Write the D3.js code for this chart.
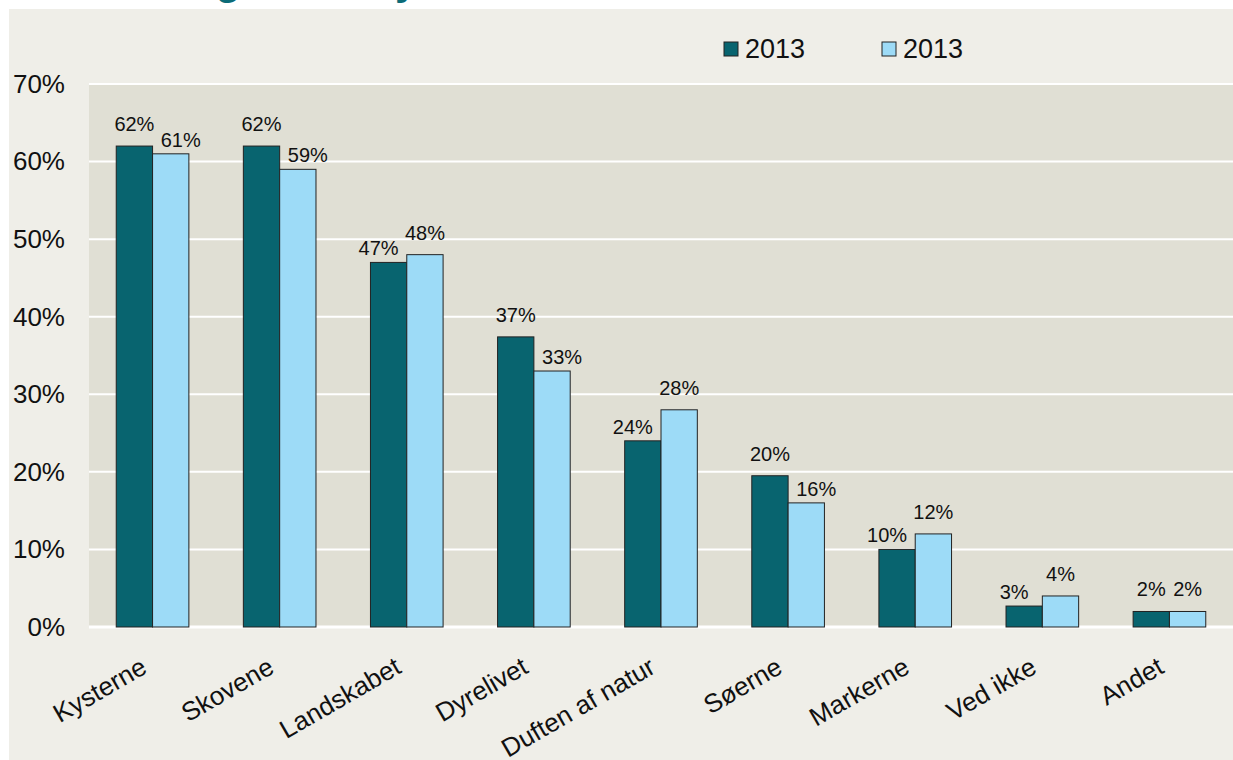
<!doctype html>
<html lang="da">
<head>
<meta charset="utf-8">
<title>Naturen</title>
<script src="https://cdn.jsdelivr.net/npm/d3@7"></script>
<style>
  body { margin: 0; background: #ffffff; }
  text { font-family: Arial, "Liberation Sans", sans-serif; }
</style>
</head>
<body>
<script>
var categories = ["Kysterne", "Skovene", "Landskabet", "Dyrelivet", "Duften af natur", "Søerne", "Markerne", "Ved ikke", "Andet"];
var seriesNames = ["2013", "2013"];
var valuesDark = [62, 62, 47, 37.4, 24, 19.5, 10, 2.7, 2];
var valuesLight = [61, 59, 48, 33, 28, 16, 12, 4, 2];
var yTicks = [0, 10, 20, 30, 40, 50, 60, 70];

var W = 1233, H = 760;
var plot = {left: 89, right: 1233, top: 84, bottom: 627};
var colors = ["#08646f", "#9ddbf7"];

var svg = d3.select("body").append("svg")
    .attr("width", W)
    .attr("height", H);

// outer background
svg.append("rect")
    .attr("x", 9).attr("y", 9)
    .attr("width", W - 9).attr("height", H - 9)
    .attr("fill", "#efeee8");

// title, cut off at the top like in the original (only descenders show)
svg.append("text")
    .attr("x", 101).attr("y", -6)
    .attr("fill", "#0b6b77")
    .attr("font-weight", "bold")
    .attr("font-size", 42)
    .text("Hvad gør det dyrebart at være i naturen");

svg.append("rect")
    .attr("x", plot.left).attr("y", plot.top)
    .attr("width", plot.right - plot.left).attr("height", plot.bottom - plot.top)
    .attr("fill", "#e0dfd4");

var x0 = d3.scaleBand()
    .domain(categories)
    .range([plot.left, plot.right])
    .paddingInner(0)
    .paddingOuter(0);

var x1 = d3.scaleBand()
    .domain([0, 1])
    .range([0, x0.bandwidth()])
    .paddingOuter(0.75)
    .paddingInner(0);

var y = d3.scaleLinear()
    .domain([0, 70])
    .range([plot.bottom, plot.top]);

// gridlines
svg.append("g")
    .selectAll("line")
    .data(yTicks)
    .enter()
    .append("line")
    .attr("x1", plot.left)
    .attr("x2", plot.right)
    .attr("y1", d => y(d))
    .attr("y2", d => y(d))
    .attr("stroke", "#ffffff")
    .attr("stroke-width", d => d === 0 ? 3 : 2);

// y axis
var yAxis = d3.axisLeft(y)
    .tickValues(yTicks)
    .tickFormat(d => d + "%")
    .tickSize(0)
    .tickPadding(0);

svg.append("g")
    .attr("transform", "translate(65,0)")
    .call(yAxis)
    .call(g => g.select(".domain").remove())
    .selectAll("text")
    .attr("font-size", 26)
    .attr("fill", "#111");

// bars
var rows = categories.map((c, i) => ({cat: c, vals: [valuesDark[i], valuesLight[i]]}));

var groups = svg.append("g")
    .selectAll("g")
    .data(rows)
    .enter()
    .append("g")
    .attr("transform", d => "translate(" + x0(d.cat) + ",0)");

groups.selectAll("rect")
    .data(d => d.vals.map((v, k) => ({k: k, v: v})))
    .enter()
    .append("rect")
    .attr("x", d => x1(d.k))
    .attr("y", d => y(d.v))
    .attr("width", x1.bandwidth())
    .attr("height", d => y(0) - y(d.v))
    .attr("fill", d => colors[d.k])
    .attr("stroke", "#222")
    .attr("stroke-width", 1);

// value labels; Excel pushed the lower label aside and down when the neighbour was taller
var nudged = d => d.other > d.v;

groups.selectAll("text")
    .data(d => d.vals.map((v, k) => ({k: k, v: v, other: d.vals[1 - k]})))
    .enter()
    .append("text")
    .attr("x", d => {
        var cx = x1(d.k) + x1.bandwidth() / 2;
        if (nudged(d)) cx += d.k === 0 ? -10 : 10;
        return cx;
    })
    .attr("y", d => y(d.v) - (nudged(d) ? 7 : 15))
    .attr("text-anchor", "middle")
    .attr("font-size", 20)
    .attr("fill", "#111")
    .text(d => Math.round(d.v) + "%");

// x labels
var xAxis = d3.axisBottom(x0).tickSize(0).tickPadding(0);

svg.append("g")
    .attr("transform", "translate(0," + plot.bottom + ")")
    .call(xAxis)
    .call(g => g.select(".domain").remove())
    .selectAll("text")
    .attr("font-size", 26)
    .attr("fill", "#111")
    .attr("text-anchor", "end")
    .attr("dy", 0)
    .attr("transform", "translate(-4,45) rotate(-30)");

// legend
var legend = svg.append("g")
    .selectAll("g")
    .data(seriesNames)
    .enter()
    .append("g")
    .attr("transform", (_, i) => "translate(" + (724 + i * 158) + ",42)");

legend.append("rect")
    .attr("width", 14).attr("height", 14)
    .attr("fill", (_, i) => colors[i])
    .attr("stroke", "#222");

legend.append("text")
    .attr("x", 21).attr("y", 16)
    .attr("font-size", 27)
    .attr("fill", "#111")
    .text(d => d);
</script>
</body>
</html>
